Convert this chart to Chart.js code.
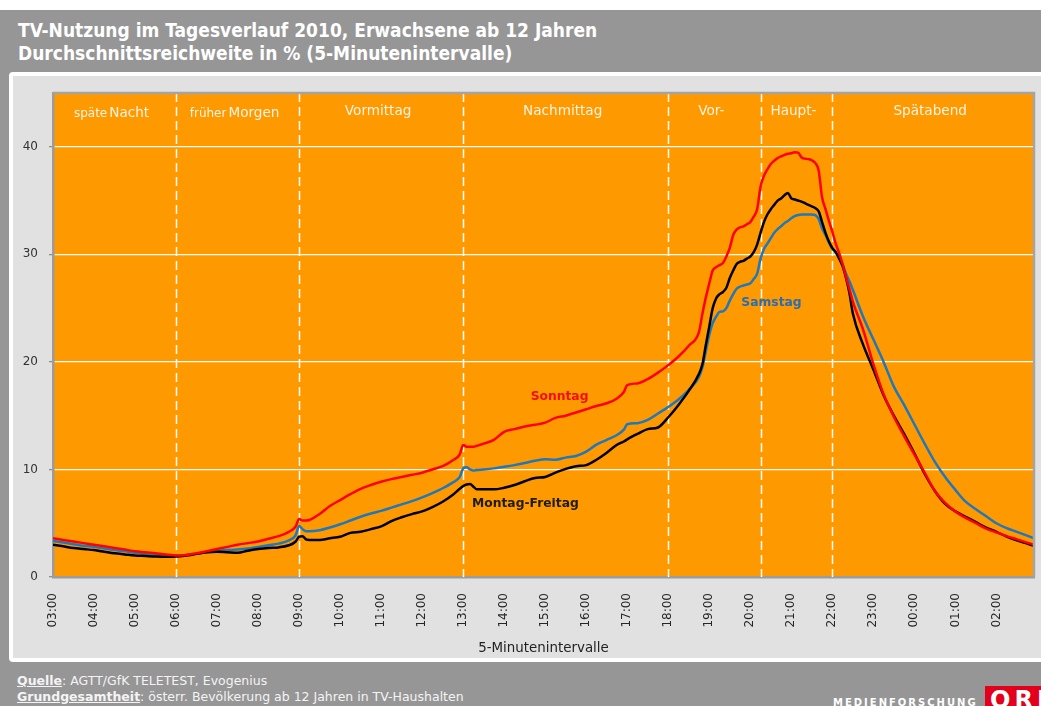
<!DOCTYPE html>
<html lang="de">
<head>
<meta charset="utf-8">
<title>TV-Nutzung im Tagesverlauf 2010</title>
<script src="https://cdn.jsdelivr.net/npm/chart.js@4.4.1/dist/chart.umd.min.js"></script>
<style>
  html, body { margin: 0; padding: 0; }
  body { width: 1041px; height: 706px; overflow: hidden; position: relative; background: #fff; font-family: "DejaVu Sans", sans-serif; }
  #bg { position: absolute; left: 0; top: 10px; width: 1041px; height: 696px; background: #969696; }
  #title { position: absolute; left: 18px; top: 19px; color: #fff; font: bold 19px "DejaVu Sans Condensed", "DejaVu Sans", sans-serif; line-height: 23px; white-space: nowrap; }
  #frame { position: absolute; left: 9px; top: 72px; width: 1040px; height: 582px; background: #e1e1e1; border: 4px solid #fff; border-radius: 4px; }
  #chart { position: absolute; left: 0; top: 0; z-index: 2; }
  #quelle { position: absolute; left: 17px; top: 673px; color: #f4f4f4; font: 12.5px "DejaVu Sans", sans-serif; line-height: 16px; white-space: nowrap; }
  #quelle .lab { font-weight: bold; text-decoration: underline; }
  #medien { position: absolute; left: 833px; top: 697px; color: #fff; font: bold 10px "DejaVu Sans", sans-serif; letter-spacing: 2px; white-space: nowrap; }
  #orf { position: absolute; left: 985px; top: 686px; width: 70px; height: 30px; background: #e2001a; color: #fff; font: bold 24px "DejaVu Sans", sans-serif; letter-spacing: 4px; padding-left: 5px; line-height: 28px; }
</style>
</head>
<body>
<div id="bg"></div>
<div id="title">TV-Nutzung im Tagesverlauf 2010, Erwachsene ab 12 Jahren<br>Durchschnittsreichweite in % (5-Minutenintervalle)</div>
<div id="frame"></div>
<canvas id="chart" width="1041" height="706"></canvas>
<div id="quelle"><span class="lab">Quelle</span>: AGTT/GfK TELETEST, Evogenius<br><span class="lab">Grundgesamtheit</span>: österr. Bevölkerung ab 12 Jahren in TV-Haushalten</div>
<div id="medien">MEDIENFORSCHUNG</div>
<div id="orf">ORF</div>

<script>
const zeiten = [
  "03:00","03:15","03:30","03:45","04:00","04:15","04:30","04:45","05:00","05:15","05:30","05:45",
  "06:00","06:15","06:30","06:45","07:00","07:15","07:30","07:45","08:00","08:15","08:30","08:45",
  "08:55","09:00","09:05","09:10","09:15","09:30","09:45","10:00","10:15","10:30","10:45","11:00",
  "11:15","11:30","11:45","12:00","12:15","12:30","12:45","12:55","13:00","13:05","13:10","13:15",
  "13:20","13:30","13:45","14:00","14:15","14:30","14:45","15:00","15:15","15:30","15:45","16:00",
  "16:15","16:30","16:45","16:55","17:00","17:15","17:30","17:45","18:00","18:15","18:30","18:45",
  "18:50","18:55","19:00","19:05","19:10","19:15","19:20","19:25","19:30","19:35","19:40","19:45",
  "19:50","19:55","20:00","20:05","20:10","20:15","20:20","20:25","20:30","20:35","20:40","20:45",
  "20:50","20:55","21:00","21:05","21:10","21:15","21:20","21:25","21:30","21:35","21:40","21:45",
  "21:50","21:55","22:00","22:05","22:10","22:15","22:20","22:25","22:30","22:45","23:00","23:15",
  "23:30","23:45","00:00","00:15","00:30","00:45","01:00","01:15","01:30","01:45","02:00","02:15",
  "02:30","02:45","02:55"
];

const sonntag = [
  3.6, 3.45, 3.3, 3.15, 3.0, 2.85, 2.7, 2.55, 2.4, 2.3, 2.2, 2.1,
  2.0, 2.05, 2.2, 2.4, 2.6, 2.8, 3.0, 3.15, 3.3, 3.55, 3.8, 4.2,
  4.7, 5.4, 5.25, 5.25, 5.3, 5.85, 6.6, 7.15, 7.7, 8.2, 8.55, 8.85,
  9.1, 9.3, 9.5, 9.7, 10.0, 10.3, 10.85, 11.4, 12.3, 12.1, 12.1, 12.1,
  12.2, 12.4, 12.75, 13.5, 13.75, 14.0, 14.15, 14.35, 14.8, 15.0, 15.3, 15.6,
  15.9, 16.15, 16.6, 17.2, 17.85, 18.0, 18.4, 19.0, 19.7, 20.5, 21.5, 22.8,
  24.5, 26.0, 27.3, 28.5, 28.8, 29.0, 29.2, 29.8, 30.6, 31.8, 32.3, 32.5,
  32.6, 32.8, 33.0, 33.5, 34.2, 36.3, 37.3, 37.9, 38.4, 38.7, 38.95, 39.1,
  39.25, 39.35, 39.4, 39.5, 39.45, 39.0, 38.9, 38.85, 38.75, 38.5, 37.8, 35.3,
  34.2, 33.1, 32.1, 31.0, 30.1, 29.1, 27.9, 26.8, 25.6, 23.0, 19.8, 17.0,
  14.9, 13.1, 11.4, 9.7, 8.0, 6.9, 6.1, 5.5, 5.0, 4.5, 4.15, 3.8,
  3.5, 3.2, 3.0
];

const samstag = [
  3.35, 3.2, 3.05, 2.9, 2.8, 2.65, 2.5, 2.4, 2.25, 2.15, 2.1, 2.05,
  2.0, 2.05, 2.15, 2.3, 2.45, 2.5, 2.55, 2.65, 2.8, 2.95, 3.1, 3.4,
  3.9, 4.75, 4.45, 4.25, 4.25, 4.35, 4.6, 4.9, 5.25, 5.6, 5.9, 6.15,
  6.45, 6.75, 7.05, 7.4, 7.8, 8.25, 8.8, 9.3, 10.1, 10.2, 10.0, 9.9,
  9.95, 10.0, 10.1, 10.25, 10.4, 10.6, 10.8, 10.95, 10.9, 11.1, 11.25, 11.65,
  12.3, 12.75, 13.2, 13.7, 14.2, 14.3, 14.6, 15.2, 15.8, 16.5, 17.4, 18.6,
  19.5, 21.0, 22.5, 23.6, 24.2, 24.65, 24.7, 25.0, 25.7, 26.3, 26.8, 27.0,
  27.1, 27.2, 27.3, 27.7, 28.2, 29.6, 30.5, 31.0, 31.5, 32.0, 32.35, 32.6,
  32.9, 33.1, 33.35, 33.55, 33.65, 33.7, 33.7, 33.7, 33.7, 33.65, 33.3, 32.4,
  31.8, 31.1, 30.5, 30.2, 29.7, 29.1, 28.2, 27.5, 26.7, 24.2, 22.1, 20.0,
  17.7, 16.0, 14.2, 12.4, 10.7, 9.3, 8.1, 7.0, 6.3, 5.65, 5.0, 4.55,
  4.2, 3.85, 3.6
];

const montagFreitag = [
  3.0, 2.85, 2.7, 2.6, 2.5, 2.35, 2.2, 2.1, 2.0, 1.95, 1.9, 1.88,
  1.9, 2.0, 2.15, 2.3, 2.35, 2.3, 2.25, 2.45, 2.6, 2.7, 2.75, 2.95,
  3.3, 3.75, 3.8, 3.5, 3.45, 3.45, 3.6, 3.75, 4.1, 4.2, 4.45, 4.7,
  5.2, 5.55, 5.85, 6.1, 6.5, 7.0, 7.65, 8.2, 8.45, 8.6, 8.65, 8.4,
  8.15, 8.15, 8.15, 8.3, 8.55, 8.9, 9.2, 9.3, 9.7, 10.05, 10.3, 10.4,
  10.9, 11.55, 12.3, 12.6, 12.8, 13.3, 13.75, 13.9, 14.85, 16.0, 17.3, 18.9,
  19.8, 21.6, 23.3, 25.0, 25.9, 26.3, 26.5, 26.9, 27.8, 28.5, 29.1, 29.3,
  29.4, 29.6, 29.8, 30.2, 30.9, 32.0, 33.0, 33.7, 34.2, 34.6, 35.0, 35.2,
  35.5, 35.7, 35.2, 35.1, 35.0, 34.9, 34.75, 34.6, 34.45, 34.3, 34.0, 33.0,
  32.0, 31.2, 30.6, 30.2, 29.6, 28.9, 27.8, 26.4, 24.5, 21.6, 19.3, 16.9,
  15.0, 13.3, 11.5, 9.6, 8.0, 6.8, 6.1, 5.6, 5.1, 4.6, 4.2, 3.75,
  3.4, 3.1, 2.9
];

// Tageszeitabschnitte
const abschnittGrenzen = ["06:00", "09:00", "13:00", "18:00", "20:15", "22:00"];
const abschnittVon = ["03:00", "06:00", "09:00", "13:00", "18:00", "20:15", "22:00"];
const abschnittBis = ["06:00", "09:00", "13:00", "18:00", "20:15", "22:00", "02:55"];
const abschnittKlein = ["späte", "früher", "", "", "", "", ""];
const abschnittNamen = ["Nacht", "Morgen", "Vormittag", "Nachmittag", "Vor-", "Haupt-", "Spätabend"];

// Beschriftungen an den Kurven
const kurvenNamen = ["Sonntag", "Samstag", "Montag-Freitag"];
const kurvenFarben = ["#ff0000", "#1f78bc", "#000000"];
const textFarben = ["#f01010", "#2a6db0", "#1c1c10"];
const kurvenLabelZeit = ["15:21", "20:31", "14:31"];
const kurvenLabelWert = [16.8, 25.5, 6.8];

function zuMinuten(t) {
  const [h, m] = t.split(":").map(Number);
  let min = h * 60 + m - 180;
  if (min < 0) min += 1440;
  return min;
}

function alsPunkte(werte) {
  return zeiten.map((t, i) => ({ x: zuMinuten(t), y: werte[i] }));
}

const dekoPlugin = {
  id: "dekoPlugin",
  beforeDraw(chart) {
    const { ctx, chartArea: a } = chart;
    ctx.save();
    ctx.fillStyle = "#ff9900";
    ctx.fillRect(a.left, a.top, a.right - a.left, a.bottom - a.top);
    ctx.restore();
  },
  beforeDatasetsDraw(chart) {
    const { ctx, chartArea: a, scales } = chart;
    const x = scales.x;
    ctx.save();
    // gestrichelte Trennlinien
    ctx.strokeStyle = "#ffffff";
    ctx.lineWidth = 1.5;
    ctx.setLineDash([9, 5]);
    abschnittGrenzen.forEach((t) => {
      const px = Math.round(x.getPixelForValue(zuMinuten(t))) + 0.5;
      ctx.beginPath();
      ctx.moveTo(px, a.top);
      ctx.lineTo(px, a.bottom);
      ctx.stroke();
    });
    ctx.setLineDash([]);
    // Abschnittsnamen
    ctx.fillStyle = "#fff4e4";
    ctx.textBaseline = "middle";
    abschnittNamen.forEach((name, i) => {
      const x0 = x.getPixelForValue(zuMinuten(abschnittVon[i]));
      const x1 = x.getPixelForValue(zuMinuten(abschnittBis[i]));
      const mitte = (x0 + x1) / 2 - 3;
      const klein = abschnittKlein[i];
      const y = klein ? a.top + 20 : a.top + 18;
      ctx.font = '13.6px "DejaVu Sans"';
      const wGross = ctx.measureText(name).width;
      let wKlein = 0;
      if (klein) {
        ctx.font = '12px "DejaVu Sans"';
        wKlein = ctx.measureText(klein).width + 2;
      }
      let start = mitte - (wGross + wKlein) / 2;
      ctx.textAlign = "left";
      if (klein) {
        ctx.font = '12px "DejaVu Sans"';
        ctx.fillText(klein, start, y + 1);
        start += wKlein;
      }
      ctx.font = '13.6px "DejaVu Sans"';
      ctx.fillText(name, start, y);
    });
    ctx.restore();
  },
  afterDatasetsDraw(chart) {
    const { ctx, chartArea: a, scales } = chart;
    ctx.save();
    // Rahmen oben und rechts
    ctx.strokeStyle = "#a4a4a4";
    ctx.lineWidth = 2.5;
    ctx.beginPath();
    ctx.moveTo(a.left, a.top);
    ctx.lineTo(a.right, a.top);
    ctx.lineTo(a.right, a.bottom);
    ctx.stroke();
    // Kurvennamen
    ctx.font = 'bold 12.3px "DejaVu Sans"';
    ctx.textAlign = "center";
    ctx.textBaseline = "middle";
    kurvenNamen.forEach((name, i) => {
      ctx.fillStyle = textFarben[i];
      const px = scales.x.getPixelForValue(zuMinuten(kurvenLabelZeit[i]));
      const py = scales.y.getPixelForValue(kurvenLabelWert[i]);
      ctx.fillText(name, px, py);
    });
    ctx.restore();
  }
};

const datensaetze = [sonntag, samstag, montagFreitag].map((werte, i) => ({
  label: kurvenNamen[i],
  data: alsPunkte(werte),
  borderColor: kurvenFarben[i],
  borderWidth: 2.5,
  pointRadius: 0,
  cubicInterpolationMode: "monotone",
  order: i === 0 ? 0 : (i === 2 ? 1 : 2)
}));

new Chart(document.getElementById("chart"), {
  type: "line",
  data: { datasets: datensaetze },
  options: {
    responsive: false,
    animation: false,
    devicePixelRatio: 1,
    layout: { padding: { left: 0, top: 93, right: 7, bottom: 0 } },
    plugins: { legend: { display: false }, tooltip: { enabled: false } },
    scales: {
      x: {
        type: "linear",
        min: 0,
        max: 1435,
        afterFit(scale) { scale.height = 129; },
        grid: { display: false, drawTicks: false },
        border: { display: true, color: "#9c9c9c", width: 2.5 },
        ticks: {
          stepSize: 60,
          includeBounds: false,
          autoSkip: false,
          minRotation: 90,
          maxRotation: 90,
          padding: 16,
          color: "#262626",
          font: { family: "DejaVu Sans", size: 12 },
          callback(value) {
            const h = (3 + Math.round(value / 60)) % 24;
            return String(h).padStart(2, "0") + ":00";
          }
        },
        title: {
          display: true,
          text: "5-Minutenintervalle",
          color: "#222",
          font: { family: "DejaVu Sans", size: 13.4 },
          padding: { top: 0, bottom: 49 }
        }
      },
      y: {
        min: 0,
        max: 45,
        afterFit(scale) { scale.width = 53; },
        grid: { color: "#ffffff", lineWidth: 1.3, drawTicks: true, tickLength: 4, tickColor: "#8c8c8c" },
        border: { display: true, color: "#9c9c9c", width: 2.5 },
        ticks: {
          stepSize: 10,
          includeBounds: false,
          padding: 11,
          color: "#333",
          font: { family: "DejaVu Sans", size: 12 }
        }
      }
    }
  },
  plugins: [dekoPlugin]
});
</script>
</body>
</html>
